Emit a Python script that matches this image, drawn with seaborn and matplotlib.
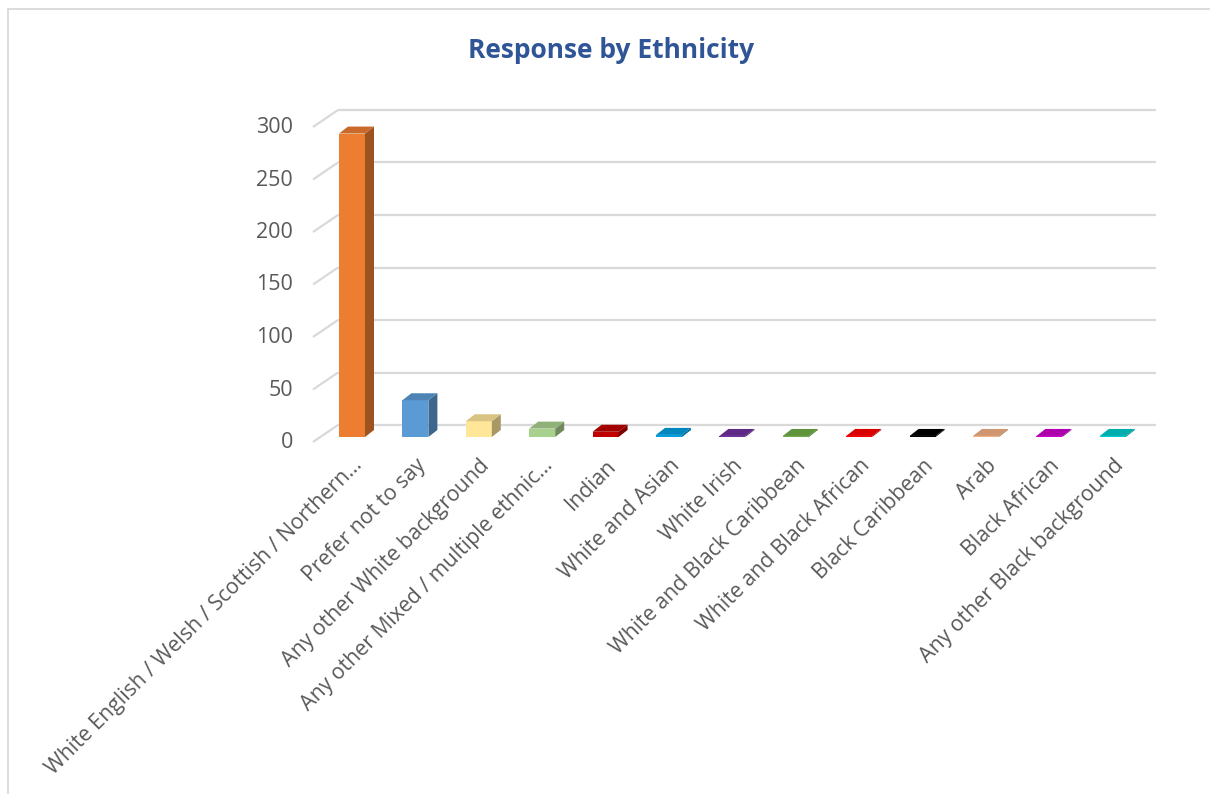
import matplotlib
matplotlib.use("Agg")
import matplotlib.pyplot as plt
import matplotlib.transforms as mtrans
import seaborn as sns
import numpy as np
import pandas as pd
from matplotlib.patches import Polygon
from matplotlib.lines import Line2D
from matplotlib.colors import to_rgb

categories = [
    "White English / Welsh / Scottish / Northern...",
    "Prefer not to say",
    "Any other White background",
    "Any other Mixed / multiple ethnic...",
    "Indian",
    "White and Asian",
    "White Irish",
    "White and Black Caribbean",
    "White and Black African",
    "Black Caribbean",
    "Arab",
    "Black African",
    "Any other Black background",
]
values = [289, 35, 15, 8, 5, 2, 1, 1, 1, 1, 1, 1, 1]
bar_colors = ["#ED7D31", "#5B9BD5", "#FFE699", "#A9D18E", "#C00000", "#00A0E0",
              "#7030A0", "#70AD47", "#FF0000", "#000000", "#F4B183", "#CC00CC", "#00CCCC"]
y_ticks = [0, 50, 100, 150, 200, 250, 300]
title = "Response by Ethnicity"

sns.set_theme(style="white")
plt.rcParams["font.family"] = ["Open Sans", "DejaVu Sans"]

W, H, DPI = 1210, 794, 100
fig = plt.figure(figsize=(W / DPI, H / DPI), dpi=DPI)

# axes placement (pixels)
x_left_px, x_right_px = 320.3, 1144.5
y0_px, y300_px = 437, 122
ax = fig.add_axes([x_left_px / W, (H - y0_px) / H,
                   (x_right_px - x_left_px) / W, (y0_px - y300_px) / H])

df = pd.DataFrame({"cat": categories, "val": values})
sns.barplot(data=df, x="cat", y="val", hue="cat", palette=bar_colors,
            width=0.41, saturation=1, legend=False, ax=ax, zorder=3)
ax.set_xlim(-0.5, len(categories) - 0.5)
ax.set_ylim(0, 300)

px_per_x = (x_right_px - x_left_px) / len(categories)
px_per_y = (y0_px - y300_px) / 300.0

def px2data(dxp, dyp):
    return dxp / px_per_x, dyp / px_per_y

# gridlines on back wall with diagonal on the left side wall
fx, fy = px2data(-7.3, -5)     # front floor offset
bx, by = px2data(17.7, 12)     # back wall offset
x_end = len(categories) - 0.5 - 0.5 + 25 / px_per_x
for v in y_ticks:
    ax.plot([-0.5 + fx, -0.5 + bx], [v + fy, v + by], color="#D9D9D9", lw=1.6,
            clip_on=False, zorder=1, solid_capstyle="butt")
    ax.plot([-0.5 + bx, x_end + bx], [v + by, v + by], color="#D9D9D9", lw=1.6,
            clip_on=False, zorder=1, solid_capstyle="butt")

# 3D faces for bars
sdx, sdy = px2data(9, 7)
def shade(c, f):
    r, g, b = to_rgb(c)
    return (r * f, g * f, b * f)

for patch, col in zip(list(ax.patches), bar_colors):
    x0 = patch.get_x()
    w = patch.get_width()
    h = patch.get_height()
    patch.set_edgecolor("none")
    side = Polygon([[x0 + w, 0], [x0 + w + sdx, sdy], [x0 + w + sdx, h + sdy], [x0 + w, h]],
                   closed=True, facecolor=shade(col, 0.66), edgecolor="none",
                   zorder=3, clip_on=False)
    top = Polygon([[x0, h], [x0 + sdx, h + sdy], [x0 + w + sdx, h + sdy], [x0 + w, h]],
                  closed=True, facecolor=shade(col, 0.85), edgecolor="none",
                  zorder=4, clip_on=False)
    ax.add_patch(side)
    ax.add_patch(top)

for s in ax.spines.values():
    s.set_visible(False)
ax.set_xlabel("")
ax.set_ylabel("")
ax.set_yticks(y_ticks)
ax.set_yticklabels([str(v) for v in y_ticks], fontsize=15.5, color="#595959")
ax.tick_params(axis="y", length=0, pad=19.5)
ax.tick_params(axis="x", length=0, pad=13)
ax.set_xticks(range(len(categories)))
ax.set_xticklabels(categories, rotation=45, ha="right", va="top",
                   rotation_mode="anchor", fontsize=15.3, color="#595959")
for lab in ax.get_yticklabels():
    lab.set_transform(lab.get_transform() + mtrans.ScaledTranslation(0, -3 / DPI, fig.dpi_scale_trans))

fig.text(611 / W, 1 - 50 / H, title, ha="center", va="center", fontsize=19,
         fontweight="bold", color="#2F5597")

# chart frame: top and left edges
fig.add_artist(Line2D([7.5 / W, 7.5 / W], [0, 1 - 9 / H], transform=fig.transFigure,
                      color="#D9D9D9", lw=1.3))
fig.add_artist(Line2D([7.5 / W, 1], [1 - 9 / H, 1 - 9 / H], transform=fig.transFigure,
                      color="#D9D9D9", lw=1.3))

fig.savefig("out.png", dpi=DPI)
